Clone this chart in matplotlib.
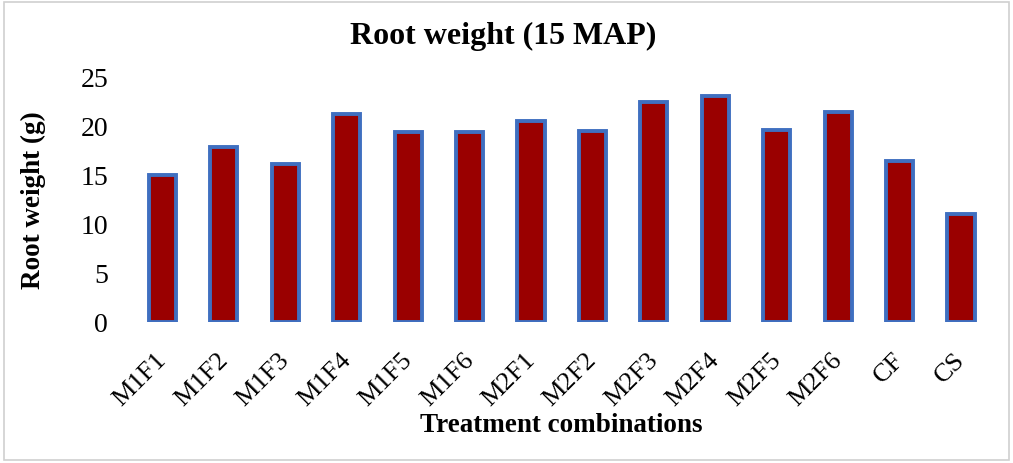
import matplotlib.pyplot as plt
from matplotlib.patches import Rectangle
from matplotlib.transforms import ScaledTranslation

treatments = ["M1F1", "M1F2", "M1F3", "M1F4", "M1F5", "M1F6", "M2F1",
              "M2F2", "M2F3", "M2F4", "M2F5", "M2F6", "CF", "CS"]
root_weight = [15.0, 17.9, 16.1, 21.2, 19.4, 19.4, 20.5,
               19.5, 22.4, 23.1, 19.6, 21.4, 16.4, 11.0]
y_ticks = [0, 5, 10, 15, 20, 25]

plt.rcParams["font.family"] = ["Liberation Serif", "DejaVu Serif"]

fig = plt.figure(figsize=(10.13, 4.64), dpi=100)
ax = fig.add_axes([0.130, 0.304, 0.849, 0.528])

ax.bar(range(len(treatments)), root_weight, width=0.44,
       color="#9a0000", edgecolor="#3f6fc0", linewidth=2.8)

ax.set_xlim(-0.5, len(treatments) - 0.5)
ax.set_ylim(0, 25)
ax.set_yticks(y_ticks)
ax.set_yticklabels([str(t) for t in y_ticks], fontsize=20)
ax.set_xticks(range(len(treatments)))
ax.set_xticklabels(treatments, rotation=45, ha="right", rotation_mode="anchor",
                   fontsize=19)
ax.tick_params(axis="y", length=0, pad=17)
ax.tick_params(axis="x", length=0, pad=19)
# nudge the slanted labels a little to the left
shift = ScaledTranslation(-5 / 72, 0, fig.dpi_scale_trans)
for lbl in ax.get_xticklabels():
    lbl.set_transform(lbl.get_transform() + shift)
for side in ax.spines.values():
    side.set_visible(False)

fig.text(0.497, 1 - 36 / 464, "Root weight (15 MAP)", fontsize=23,
         fontweight="bold", ha="center", va="center")
ax.set_xlabel("Treatment combinations", fontsize=19.5, fontweight="bold")
ax.xaxis.set_label_coords(0.5, -0.367)
ax.set_ylabel("Root weight (g)", fontsize=19.5, fontweight="bold")
ax.yaxis.set_label_coords(-0.0996, 0.5)

# light frame around the chart area
fig.patches.append(Rectangle((0.004, 0.006), 0.992, 0.988, transform=fig.transFigure,
                             fill=False, edgecolor="#d0d0d0", linewidth=1.2))

fig.savefig("out.png", dpi=100)
